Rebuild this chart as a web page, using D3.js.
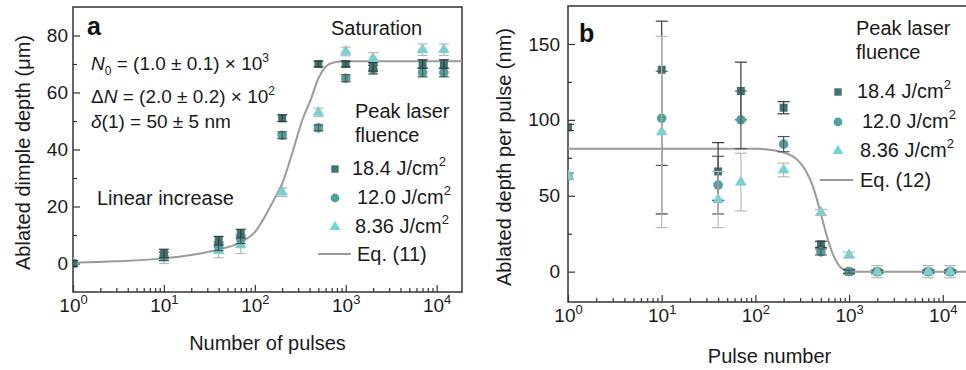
<!DOCTYPE html>
<html>
<head>
<meta charset="utf-8">
<script src="https://cdn.jsdelivr.net/npm/d3@7"></script>
<style>
  html, body { margin: 0; padding: 0; background: #fff; }
  svg { display: block; font-family: "Liberation Sans", Arial, sans-serif; }
  .tick line { stroke: #333; stroke-width: 1.2; }
  .tick text { fill: #1a1a1a; font-size: 19px; }
</style>
</head>
<body>
<div id="chart"></div>
<script>
// pulse counts shared by both panels
const pulses = [1, 10, 40, 70, 200, 500, 1000, 2000, 7000, 12000];
const fluences = ["18.4", "12.0", "8.36"];

// panel a: ablated dimple depth (um)
const depthA184 = [0, 3.5, 8, 10.5, 51, 70, 70, 69, 70, 70];
const depthA120 = [0, 2.5, 6, 8.5, 45, 47.6, 65, 68, 67, 67];
const depthA836 = [0, 2, 4.5, 6.5, 25, 53, 74.4, 72, 75, 75];
const errA184 = [1, 1.5, 1.5, 1.5, 1.2, 1, 1, 1.5, 1.5, 1.5];
const errA120 = [1, 1.5, 1.5, 1.5, 1.2, 1, 1.2, 1.5, 1.5, 1.5];
const errA836 = [1, 2, 2.5, 3, 1.5, 1.5, 1.5, 2, 2, 2];
// Eq. (11) curve
const fitA = [[1, 0.3], [3, 0.8], [10, 1.8], [20, 3], [40, 4.9], [70, 7.5], [100, 11], [160, 22], [200, 28],
  [265, 40], [330, 50], [418, 58], [500, 65], [600, 69], [730, 70.5], [1000, 71], [2000, 71], [19000, 71]];

// panel b: ablated depth per pulse (nm)
const depthB184 = [95, 133, 66, 119, 108, 18, 0, 0, 0, 0];
const depthB120 = [63, 101, 57, 100, 84, 13, 0, 0, 0, 0];
const depthB836 = [63, 92, 47.5, 59, 67, 39, 11, 0, 0, 0];
const errB184hi = [2, 32, 19, 19, 4, 2, 1.5, 1, 1, 1];
const errB184lo = [2, 95, 19, 19, 4, 2, 1.5, 1, 1, 1];
const errB120 = [2, 31, 19, 19, 5, 2, 1, 1, 1, 1];
const errB836 = [2, 63, 18.5, 19, 4.5, 2, 2, 4, 4, 4];
// Eq. (12) curve
const fitB = [[1, 81], [50, 81], [100, 81], [154, 80], [251, 76], [355, 65], [412, 56], [490, 40], [575, 24],
  [676, 11], [794, 3.5], [935, 0.7], [1200, 0], [3000, 0], [20000, 0]];

const colors = ["#3d7474", "#50a0a0", "#6dd5d5"];
const shapes = [d3.symbolSquare, d3.symbolCircle, d3.symbolTriangle];
const symSize = [64, 72, 58];
const errColors = ["#3a3a3a", "#555", "#b8b8b8"];

const W = 966, H = 370;
const svg = d3.select("#chart").append("svg").attr("width", W).attr("height", H);

function sup(sel, base, exp, dyUp) {
  sel.append("tspan").text(base);
  sel.append("tspan").attr("dy", -dyUp).attr("font-size", "13px").text(exp);
}

function drawPanel(p) {
  const x = d3.scaleLog().domain(p.xDomain).range([p.left, p.right]);
  const y = d3.scaleLinear().domain(p.yDomain).range([p.bottom, p.top]);
  const g = svg.append("g");

  g.append("clipPath").attr("id", p.id + "-clip")
    .append("rect").attr("x", p.left).attr("y", p.top)
    .attr("width", p.right - p.left).attr("height", p.bottom - p.top);

  // x ticks: minor + major, pointing inward
  const minor = [];
  for (let dec = 1; dec <= 10000; dec *= 10)
    for (let k = 2; k <= 9; k++) if (dec * k < p.xDomain[1]) minor.push(dec * k);
  g.append("g").attr("transform", `translate(0,${p.bottom})`)
    .call(d3.axisBottom(x).tickValues(minor).tickSize(-4).tickFormat(""))
    .call(a => a.select(".domain").remove());
  g.append("g").attr("transform", `translate(0,${p.bottom})`)
    .call(d3.axisBottom(x).tickValues([1, 10, 100, 1000, 10000]).tickSize(-7).tickPadding(7).tickFormat(""))
    .call(a => a.select(".domain").remove())
    .selectAll(".tick text")
    .each(function (d) { sup(d3.select(this), "10", Math.round(Math.log10(d)), 8); });

  // y ticks
  g.append("g").attr("transform", `translate(${p.left},0)`)
    .call(d3.axisLeft(y).tickValues(p.yMinor).tickSize(-4).tickFormat(""))
    .call(a => a.select(".domain").remove());
  g.append("g").attr("transform", `translate(${p.left},0)`)
    .call(d3.axisLeft(y).tickValues(p.yMajor).tickSize(-7).tickPadding(p.yPad))
    .call(a => a.select(".domain").remove());

  g.append("rect").attr("x", p.left).attr("y", p.top)
    .attr("width", p.right - p.left).attr("height", p.bottom - p.top)
    .attr("fill", "none").attr("stroke", "#333").attr("stroke-width", 1.5);

  const plot = g.append("g").attr("clip-path", `url(#${p.id}-clip)`);

  plot.append("path").datum(p.fit)
    .attr("d", d3.line().x(d => x(d[0])).y(d => y(d[1])).curve(d3.curveMonotoneX))
    .attr("fill", "none").attr("stroke", "#9a9a9a").attr("stroke-width", 2);

  p.order.forEach(s => {
    const vals = p.series[s];
    const hi = p.errHi[s], lo = p.errLo[s];
    const pts = pulses.map((n, i) => ({ n, v: vals[i], hi: hi[i], lo: lo[i] }));
    plot.append("g").selectAll("path").data(pts).join("path")
      .attr("transform", d => `translate(${x(d.n)},${y(d.v)})`)
      .attr("d", d3.symbol(shapes[s], symSize[s]))
      .attr("fill", colors[s]);
    const eb = plot.append("g").attr("stroke", errColors[s]).attr("stroke-width", 1.2)
      .selectAll("g").data(pts).join("g");
    eb.append("line")
      .attr("x1", d => x(d.n)).attr("x2", d => x(d.n))
      .attr("y1", d => y(d.v + d.hi)).attr("y2", d => y(d.v - d.lo));
    eb.append("line")
      .attr("x1", d => x(d.n) - p.cap).attr("x2", d => x(d.n) + p.cap)
      .attr("y1", d => y(d.v + d.hi)).attr("y2", d => y(d.v + d.hi));
    eb.append("line")
      .attr("x1", d => x(d.n) - p.cap).attr("x2", d => x(d.n) + p.cap)
      .attr("y1", d => y(d.v - d.lo)).attr("y2", d => y(d.v - d.lo));
  });

  // axis titles
  g.append("text").attr("x", (p.left + p.right) / 2).attr("y", p.xTitleY)
    .attr("text-anchor", "middle").attr("font-size", "20px").attr("fill", "#1a1a1a").text(p.xTitle);
  g.append("text").attr("transform", `translate(${p.yTitleX},${(p.top + p.bottom) / 2 + 3}) rotate(-90)`)
    .attr("text-anchor", "middle").attr("font-size", "20px").attr("fill", "#1a1a1a").text(p.yTitle);

  g.append("text").attr("x", p.label[1]).attr("y", p.label[2])
    .attr("font-size", "25px").attr("font-weight", "bold").attr("fill", "#111").text(p.label[0]);

  // legend
  const L = p.legend;
  const lg = g.append("g").attr("font-size", "20px").attr("fill", "#1a1a1a");
  lg.append("text").attr("x", L.x).attr("y", L.y).text("Peak laser");
  lg.append("text").attr("x", L.x).attr("y", L.y + 24).text("fluence");
  fluences.forEach((f, s) => {
    const row = L.rows[s];
    lg.append("path").attr("transform", `translate(${L.mx},${row - 6})`)
      .attr("d", d3.symbol(shapes[s], symSize[s] * 0.85)).attr("fill", colors[s]);
    const t = lg.append("text").attr("x", L.tx[s]).attr("y", row);
    sup(t, f + " J/cm", "2", 9);
  });
  lg.append("line").attr("x1", L.lx[0]).attr("x2", L.lx[1]).attr("y1", L.lineY).attr("y2", L.lineY)
    .attr("stroke", "#9a9a9a").attr("stroke-width", 2);
  lg.append("text").attr("x", L.tx[3]).attr("y", L.lineY + 7).text(p.eq);

  return g;
}

const gA = drawPanel({
  id: "a", left: 73, right: 462, top: 7, bottom: 292,
  xDomain: [1, 19000], yDomain: [-10, 90],
  yMajor: [0, 20, 40, 60, 80], yMinor: [10, 30, 50, 70], yPad: 5,
  series: [depthA184, depthA120, depthA836], order: [2, 1, 0],
  errHi: [errA184, errA120, errA836], errLo: [errA184, errA120, errA836],
  fit: fitA, cap: 5,
  xTitle: "Number of pulses", xTitleY: 350,
  yTitle: "Ablated dimple depth (\u03bcm)", yTitleX: 30,
  label: ["a", 87, 35],
  legend: { x: 355, y: 118, mx: 335, rows: [175, 204, 233], tx: [352, 357, 355, 357], lx: [318, 351], lineY: 254 },
  eq: "Eq. (11)"
});

const gB = drawPanel({
  id: "b", left: 568, right: 971, top: 6, bottom: 302,
  xDomain: [1, 20000], yDomain: [-20, 175],
  yMajor: [0, 50, 100, 150], yMinor: [25, 75, 125], yPad: 8,
  series: [depthB184, depthB120, depthB836], order: [0, 1, 2],
  errHi: [errB184hi, errB120, errB836], errLo: [errB184lo, errB120, errB836],
  fit: fitB, cap: 6,
  xTitle: "Pulse number", xTitleY: 363,
  yTitle: "Ablated depth per pulse (nm)", yTitleX: 511,
  label: ["b", 579, 42],
  legend: { x: 856, y: 35, mx: 838, rows: [98, 128, 157], tx: [857, 862, 860, 860], lx: [820, 853], lineY: 180 },
  eq: "Eq. (12)"
});

// panel a annotations
const ann = gA.append("g").attr("font-size", "19px").attr("fill", "#1a1a1a");
const n0 = ann.append("text").attr("x", 91).attr("y", 70);
n0.append("tspan").attr("font-style", "italic").text("N");
n0.append("tspan").attr("dy", 5).attr("font-size", "12px").text("0");
n0.append("tspan").attr("dy", -5).text(" = (1.0 \u00b1 0.1) \u00d7 10");
n0.append("tspan").attr("dy", -8).attr("font-size", "12px").text("3");
const dn = ann.append("text").attr("x", 91).attr("y", 103);
dn.append("tspan").text("\u0394");
dn.append("tspan").attr("font-style", "italic").text("N");
dn.append("tspan").text(" = (2.0 \u00b1 0.2) \u00d7 10");
dn.append("tspan").attr("dy", -8).attr("font-size", "12px").text("2");
const d1 = ann.append("text").attr("x", 91).attr("y", 128);
d1.append("tspan").attr("font-style", "italic").text("\u03b4");
d1.append("tspan").text("(1) = 50 \u00b1 5 nm");
gA.append("text").attr("x", 331).attr("y", 35).attr("font-size", "20px").attr("fill", "#1a1a1a").text("Saturation");
gA.append("text").attr("x", 97).attr("y", 205).attr("font-size", "20px").attr("fill", "#1a1a1a").text("Linear increase");
</script>
</body>
</html>
